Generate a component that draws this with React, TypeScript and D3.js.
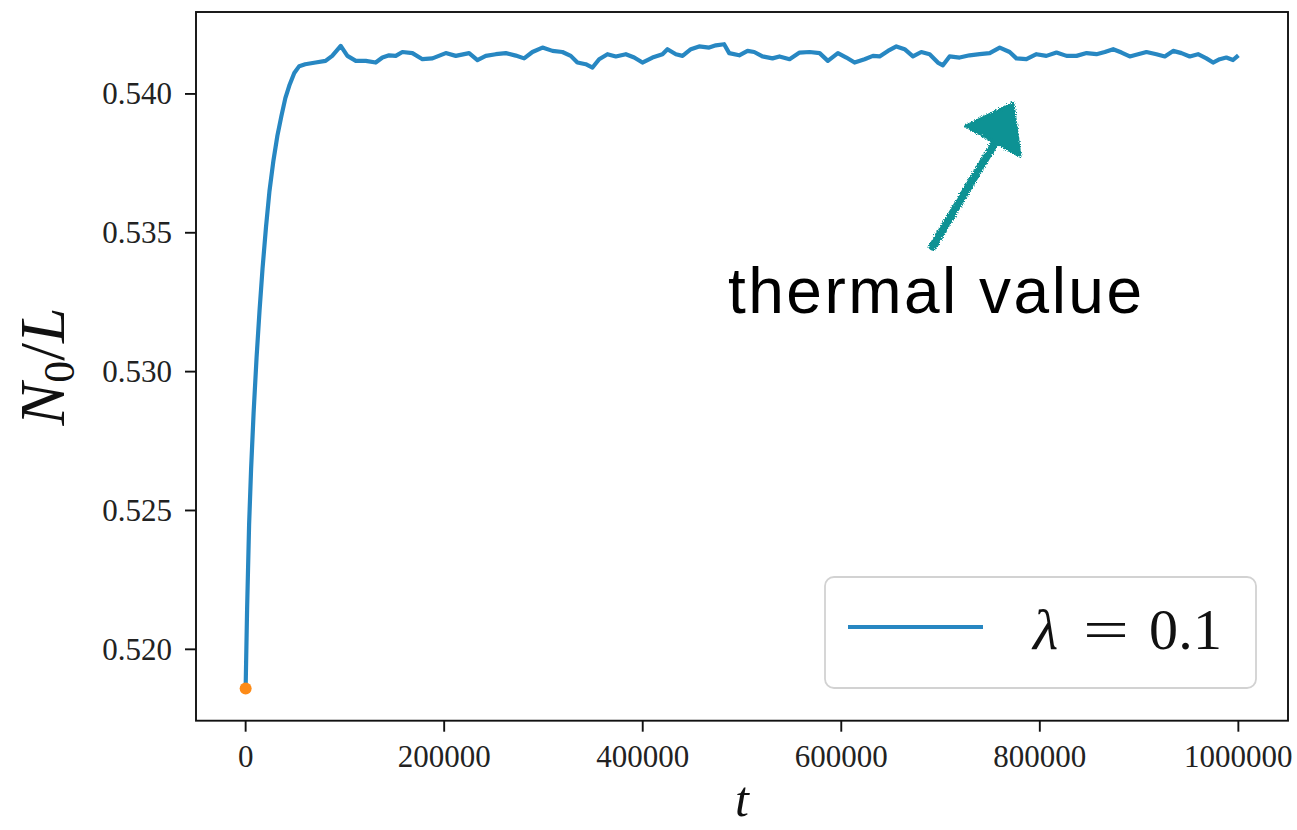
import React from "react";
import * as d3 from "d3";

// Simulation time steps and the measured N0/L density
const T: number[] = [
  0, 1500, 3500, 5500, 8000, 11000, 14000, 17000, 20500, 24000, 28000, 32000, 36000, 40000, 44000,
  49000, 54000,
  60000, 70500, 80500, 87200, 95800, 102500, 111000, 121000, 131000, 137800, 144500, 151200,
  157900, 168000, 178100, 188200, 201600, 211700, 225100, 233500, 241900, 252000, 262100,
  272100, 280500, 288900, 299000, 309100, 319100, 327500, 334200, 342600, 349400, 356100,
  364500, 372900, 383000, 391400, 399700, 409800, 419900, 424900, 433400, 440100, 448500,
  456800, 466900, 473700, 482000, 487100, 497200, 505600, 512300, 520600, 530700, 537800,
  547900, 558000, 568100, 578200, 586500, 596600, 605100, 613400, 623500, 631900, 638600,
  647000, 655500, 663800, 672200, 680600, 689000, 697300, 702400, 709100, 719200, 729300,
  739400, 749500, 759600, 769600, 776400, 786500, 796600, 806600, 816800, 826900, 837000,
  847100, 857100, 865500, 873900, 882300, 890600, 899000, 907400, 917500, 925900, 934300,
  942700, 951000, 959400, 967800, 974500, 981200, 987900, 994600, 1000000,
];

const N0L: number[] = [
  0.51859, 0.5215, 0.5245, 0.5265, 0.5285, 0.5305, 0.5322, 0.5337, 0.5352, 0.5365, 0.5376,
  0.5385, 0.5392, 0.53985, 0.5403, 0.54075, 0.541,
  0.54107, 0.54113, 0.54119, 0.54137, 0.54173, 0.54137,
  0.54119, 0.54119, 0.54113, 0.54131, 0.54139, 0.54137, 0.54151, 0.54147, 0.54125, 0.54128,
  0.54147, 0.54137, 0.54147, 0.54122, 0.54137, 0.54143, 0.54147, 0.54138, 0.54128, 0.54151,
  0.54167, 0.54155, 0.54151, 0.54137, 0.54113, 0.54107, 0.54095, 0.54125, 0.54143, 0.54135,
  0.54143, 0.54131, 0.54113, 0.54131, 0.54143, 0.54161, 0.54143, 0.54137, 0.54161, 0.54171,
  0.54167, 0.54175, 0.54179, 0.54147, 0.54139, 0.54155, 0.54151, 0.54135, 0.54128, 0.54135,
  0.54125, 0.54149, 0.54151, 0.54147, 0.54119, 0.54147, 0.54131, 0.54113, 0.54125, 0.54137,
  0.54135, 0.54155, 0.54171, 0.54161, 0.54135, 0.54151, 0.54143, 0.54113, 0.54103, 0.54135,
  0.54131, 0.54139, 0.54143, 0.54147, 0.54167, 0.54151, 0.54128, 0.54125, 0.54143, 0.54137,
  0.54149, 0.54137, 0.54137, 0.54147, 0.54143, 0.54151, 0.54161, 0.54149, 0.54135, 0.54143,
  0.54151, 0.54143, 0.54135, 0.54155, 0.54147, 0.54135, 0.54143, 0.54128, 0.54113, 0.54125,
  0.54131, 0.54122, 0.54139,
];

// Initial state marker
const START_T: number[] = [0];
const START_V: number[] = [0.51859];

const X_TICKS: number[] = [0, 200000, 400000, 600000, 800000, 1000000];
const Y_TICKS: number[] = [0.52, 0.525, 0.53, 0.535, 0.54];

const LEGEND_LAMBDA = "0.1";
const ANNOTATION = "thermal value";

const W = 1297;
const H = 830;
const M = { left: 196, right: 1288, top: 12, bottom: 720.7 };

const LINE_COLOR = "#2787c2";
const DOT_COLOR = "#fd8b17";
const ARROW_COLOR = "#0b9294";
const SERIF = "'Liberation Serif', 'Times New Roman', serif";
const SANS = "'Liberation Sans', Arial, Helvetica, sans-serif";

export default function App() {
  const [t0, t1] = d3.extent(T) as [number, number];
  const [v0, v1] = d3.extent(N0L) as [number, number];
  const padX = (t1 - t0) * 0.05;
  const padY = (v1 - v0) * 0.05;

  const x = d3.scaleLinear().domain([t0 - padX, t1 + padX]).range([M.left, M.right]);
  const y = d3.scaleLinear().domain([v0 - padY, v1 + padY]).range([M.bottom, M.top]);

  const pts: [number, number][] = T.map((t, i) => [t, N0L[i]]);
  const line = d3
    .line<[number, number]>()
    .x((d) => x(d[0]))
    .y((d) => y(d[1]));

  // Hand-drawn arrow pointing at the plateau
  const tail: [number, number] = [x(692000), y(0.5345)];
  const tip: [number, number] = [x(773000), y(0.53967)];
  const headA: [number, number] = [tip[0] - 47, tip[1] + 23];
  const headB: [number, number] = [tip[0] + 7, tip[1] + 53];
  const neck: [number, number] = [(headA[0] + headB[0]) / 2 + 4, (headA[1] + headB[1]) / 2 - 2];

  const legX = 825;
  const legY = 577;
  const legW = 431;
  const legH = 111;

  return (
    <svg
      width={W}
      height={H}
      style={{ position: "absolute", left: 0, top: 0, background: "#fff" }}
    >
      <defs>
        <filter id="crayon" x="-10%" y="-10%" width="120%" height="120%">
          <feTurbulence type="fractalNoise" baseFrequency="0.9" numOctaves="2" seed="3" result="noise" />
          <feDisplacementMap in="SourceGraphic" in2="noise" scale="5" xChannelSelector="R" yChannelSelector="G" />
        </filter>
        <clipPath id="plotArea">
          <rect x={M.left} y={M.top} width={M.right - M.left} height={M.bottom - M.top} />
        </clipPath>
      </defs>

      {/* data */}
      <g clipPath="url(#plotArea)">
        <path d={line(pts) || ""} fill="none" stroke={LINE_COLOR} strokeWidth={4.2} strokeLinejoin="round" />
        {START_T.map((t, i) => (
          <circle key={i} cx={x(t)} cy={y(START_V[i])} r={6} fill={DOT_COLOR} />
        ))}
      </g>

      {/* frame */}
      <rect
        x={M.left}
        y={M.top}
        width={M.right - M.left}
        height={M.bottom - M.top}
        fill="none"
        stroke="#111"
        strokeWidth={1.9}
      />

      {/* x axis */}
      {X_TICKS.map((t) => (
        <g key={t}>
          <line x1={x(t)} x2={x(t)} y1={M.bottom} y2={M.bottom + 11} stroke="#111" strokeWidth={1.9} />
          <text x={x(t)} y={767} textAnchor="middle" fontFamily={SERIF} fontSize={31} fill="#222">
            {String(t)}
          </text>
        </g>
      ))}

      {/* y axis */}
      {Y_TICKS.map((v) => (
        <g key={v}>
          <line x1={M.left - 11} x2={M.left} y1={y(v)} y2={y(v)} stroke="#111" strokeWidth={1.9} />
          <text
            x={172}
            y={y(v)}
            dy="0.34em"
            textAnchor="end"
            fontFamily={SERIF}
            fontSize={31}
            fill="#222"
          >
            {v.toFixed(3)}
          </text>
        </g>
      ))}

      {/* axis labels */}
      <text x={742} y={816} textAnchor="middle" fontFamily={SERIF} fontSize={50} fontStyle="italic" fill="#111">
        t
      </text>
      <text
        transform={`translate(64, ${(M.top + M.bottom) / 2}) rotate(-90)`}
        textAnchor="middle"
        fontFamily={SERIF}
        fontSize={64}
        fill="#111"
      >
        <tspan fontStyle="italic">N</tspan>
        <tspan fontSize={44} dy={10}>0</tspan>
        <tspan dy={-10}>/</tspan>
        <tspan fontStyle="italic">L</tspan>
      </text>

      {/* legend */}
      <rect
        x={legX}
        y={legY}
        width={legW}
        height={legH}
        rx={9}
        fill="#fff"
        fillOpacity={0.85}
        stroke="#d2d2d2"
        strokeWidth={1.8}
      />
      <line x1={848} x2={983} y1={627} y2={627} stroke={LINE_COLOR} strokeWidth={4.2} />
      <text x={1033} y={649} fontFamily={SERIF} fontSize={58} fontStyle="italic" fill="#111">
        λ
      </text>
      <text x={1083} y={649} fontFamily={SERIF} fontSize={58} textLength={46} lengthAdjust="spacingAndGlyphs" fill="#111">
        =
      </text>
      <text x={1149} y={649} fontFamily={SERIF} fontSize={58} textLength={73} lengthAdjust="spacing" fill="#111">
        {LEGEND_LAMBDA}
      </text>

      {/* annotation */}
      <g filter="url(#crayon)" fill={ARROW_COLOR} stroke={ARROW_COLOR}>
        <line
          x1={tail[0]}
          y1={tail[1]}
          x2={neck[0]}
          y2={neck[1]}
          strokeWidth={8}
          strokeLinecap="round"
        />
        <polygon
          points={[headA, tip, headB].map((p) => p.join(",")).join(" ")}
          strokeWidth={3}
          strokeLinejoin="round"
        />
      </g>
      <text x={728} y={313} fontFamily={SANS} fontSize={64} textLength={414} lengthAdjust="spacing" fill="#000">
        {ANNOTATION}
      </text>
    </svg>
  );
}
